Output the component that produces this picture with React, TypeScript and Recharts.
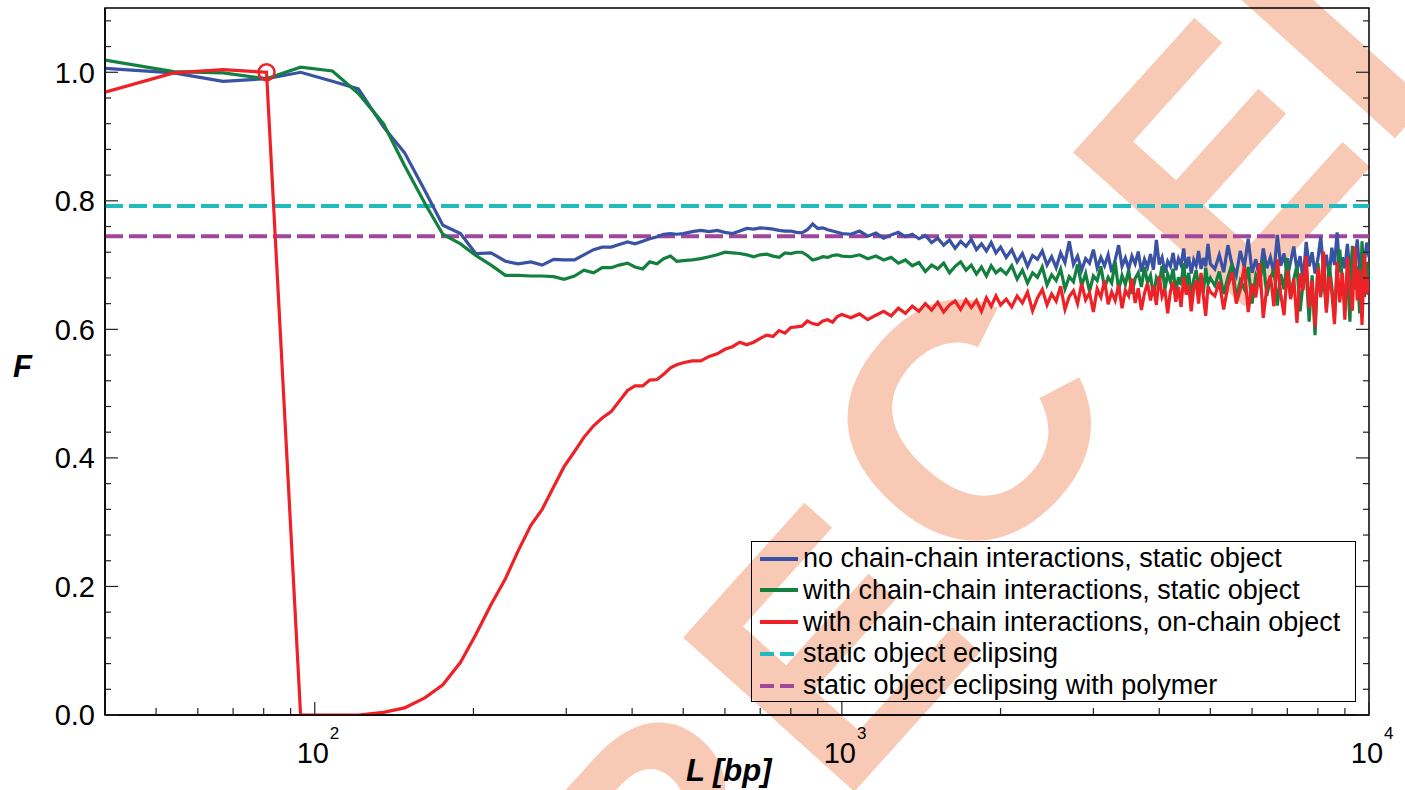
import React from "react";
import {
  LineChart,
  Line,
  XAxis,
  YAxis,
  ReferenceLine,
  ReferenceDot,
  ReferenceArea,
} from "recharts";

// chain length L [bp]
const lengths = [
  40, 54, 67, 81, 94, 108, 121, 135, 148, 162, 175, 189, 202, 216, 230, 243, 257, 270, 284, 297,
  311, 324, 338, 351, 365, 378, 392, 405, 419, 432, 446, 459, 473, 486, 500,
  520, 540, 560, 580, 600, 620, 640, 660, 680, 700, 720, 740, 760, 780, 800, 820, 840, 860, 880, 900,
  920, 940, 960, 980, 1000,
  1040, 1080, 1120, 1160, 1200, 1240, 1280, 1320, 1360, 1400, 1440, 1480, 1520, 1560, 1600, 1640,
  1680, 1720, 1760, 1800, 1840, 1880, 1920, 1960, 2000,
  2050, 2100, 2150, 2200, 2250, 2300, 2350, 2400, 2450, 2500, 2550, 2600, 2650, 2700, 2750, 2800,
  2850, 2900, 2950, 3000, 3050, 3100, 3150, 3200, 3250, 3300, 3350, 3400, 3450, 3500, 3550, 3600,
  3650, 3700, 3750, 3800, 3850, 3900, 3950, 4000, 4050, 4100, 4150, 4200, 4250, 4300, 4350, 4400,
  4450, 4500, 4550, 4600, 4650, 4700, 4750, 4800, 4850, 4900, 4950, 5000,
  5100, 5200, 5300, 5400, 5500, 5600, 5700, 5800, 5900, 6000, 6100, 6200, 6300, 6400, 6500, 6600,
  6700, 6800, 6900, 7000, 7100, 7200, 7300, 7400, 7500, 7600, 7700, 7800, 7900, 8000, 8100, 8200,
  8300, 8400, 8500, 8600, 8700, 8800, 8900, 9000, 9100, 9200, 9300, 9400, 9500, 9600, 9700, 9800,
  9900, 10000,
];

// no chain-chain interactions, static object
const noChainStatic = [
  1.006, 0.999, 0.986, 0.99, 1.0, 0.986, 0.974, 0.915, 0.875, 0.815, 0.762, 0.749, 0.718, 0.719,
  0.706, 0.702, 0.705, 0.7, 0.709, 0.708, 0.708, 0.716, 0.724, 0.728, 0.728, 0.732, 0.736, 0.733,
  0.737, 0.741, 0.744, 0.748, 0.749, 0.748, 0.749,
  0.752, 0.754, 0.752, 0.754, 0.751, 0.749, 0.753, 0.757, 0.756, 0.758, 0.757, 0.756, 0.754, 0.753,
  0.753, 0.751, 0.75, 0.755, 0.764, 0.757, 0.758, 0.755, 0.753, 0.751, 0.749,
  0.748, 0.753, 0.745, 0.75, 0.742, 0.747, 0.751, 0.744, 0.748, 0.741, 0.746, 0.735, 0.742, 0.731,
  0.739, 0.726, 0.737, 0.729, 0.74, 0.724, 0.733, 0.722, 0.735, 0.719, 0.728,
  0.712, 0.724, 0.705, 0.718, 0.698, 0.715, 0.709, 0.722, 0.7, 0.713, 0.696, 0.719, 0.704, 0.737,
  0.701, 0.714, 0.692, 0.71, 0.703, 0.724, 0.696, 0.712, 0.699, 0.716, 0.689, 0.708, 0.731, 0.698,
  0.711, 0.694, 0.714, 0.702, 0.721, 0.69, 0.709, 0.697, 0.717, 0.693, 0.739, 0.701, 0.712, 0.688,
  0.706, 0.698, 0.719, 0.692, 0.71, 0.7, 0.726, 0.695, 0.713, 0.687, 0.708, 0.699, 0.722, 0.694,
  0.711, 0.698, 0.733, 0.702,
  0.694, 0.716, 0.689, 0.731, 0.7, 0.684, 0.722, 0.697, 0.741, 0.688, 0.709, 0.679, 0.726, 0.695,
  0.712, 0.686, 0.747, 0.699, 0.718, 0.682, 0.705, 0.729, 0.691, 0.714, 0.676, 0.736, 0.698, 0.72,
  0.687, 0.71, 0.744, 0.693, 0.716, 0.681, 0.727, 0.7, 0.751, 0.689, 0.712, 0.695, 0.733, 0.684,
  0.722, 0.703, 0.74, 0.691, 0.718, 0.706, 0.735, 0.712,
];

// with chain-chain interactions, static object
const chainStatic = [
  1.019, 1.001, 0.999, 0.99, 1.008, 1.002, 0.967, 0.92, 0.855, 0.795, 0.748, 0.733, 0.715, 0.7,
  0.684, 0.684, 0.683, 0.683, 0.682, 0.678, 0.683, 0.692, 0.688, 0.696, 0.696, 0.7, 0.703, 0.697,
  0.694, 0.705, 0.702, 0.71, 0.714, 0.706, 0.707,
  0.708, 0.71, 0.713, 0.716, 0.72, 0.719, 0.718, 0.716, 0.713, 0.716, 0.717, 0.714, 0.712, 0.719,
  0.718, 0.72, 0.72, 0.715, 0.708, 0.71, 0.713, 0.712, 0.715, 0.716, 0.714,
  0.713, 0.716, 0.71, 0.714, 0.708, 0.712, 0.703, 0.708, 0.699, 0.704, 0.69, 0.7, 0.694, 0.703,
  0.688, 0.698, 0.705, 0.692, 0.7, 0.686, 0.697, 0.683, 0.699, 0.688, 0.694,
  0.686, 0.699, 0.678, 0.692, 0.672, 0.688, 0.681, 0.697, 0.669, 0.685, 0.676, 0.694, 0.663, 0.682,
  0.674, 0.701, 0.668, 0.687, 0.659, 0.683, 0.676, 0.698, 0.664, 0.681, 0.672, 0.705, 0.661, 0.684,
  0.67, 0.692, 0.655, 0.679, 0.688, 0.666, 0.697, 0.673, 0.684, 0.652, 0.68, 0.671, 0.699, 0.662,
  0.686, 0.674, 0.694, 0.658, 0.681, 0.669, 0.703, 0.663, 0.688, 0.65, 0.677, 0.692, 0.666, 0.684,
  0.657, 0.696, 0.671, 0.68,
  0.668, 0.69, 0.655, 0.681, 0.702, 0.648, 0.676, 0.663, 0.697, 0.64, 0.684, 0.671, 0.708, 0.652,
  0.679, 0.694, 0.637, 0.686, 0.662, 0.711, 0.649, 0.678, 0.699, 0.628, 0.673, 0.69, 0.612, 0.684,
  0.591, 0.703, 0.655, 0.68, 0.632, 0.702, 0.667, 0.619, 0.693, 0.724, 0.676, 0.641, 0.688, 0.612,
  0.73, 0.662, 0.698, 0.625, 0.737, 0.65, 0.705, 0.668,
];

// with chain-chain interactions, on-chain object
const chainOnChain = [
  0.969, 0.999, 1.004, 1.0, 0.0, 0.0, 0.0, 0.004, 0.011, 0.027, 0.047, 0.082, 0.125, 0.172, 0.212,
  0.255, 0.295, 0.32, 0.355, 0.386, 0.41, 0.432, 0.45, 0.462, 0.472, 0.488, 0.505, 0.512, 0.512,
  0.521, 0.522, 0.53, 0.54, 0.545, 0.548,
  0.551, 0.551, 0.558, 0.562, 0.569, 0.573, 0.58, 0.576, 0.58, 0.586, 0.591, 0.589, 0.598, 0.594,
  0.603, 0.604, 0.605, 0.613, 0.609, 0.607, 0.613, 0.615, 0.611, 0.62, 0.623,
  0.618, 0.624, 0.615, 0.622, 0.628, 0.621, 0.633, 0.625, 0.636, 0.628, 0.64, 0.63, 0.642, 0.627,
  0.638, 0.644, 0.631, 0.646, 0.634, 0.645, 0.628, 0.649, 0.636, 0.652, 0.638,
  0.647, 0.635, 0.652, 0.641, 0.658, 0.629, 0.649, 0.662, 0.638, 0.655, 0.644, 0.667, 0.631, 0.651,
  0.66, 0.64, 0.671, 0.646, 0.657, 0.627, 0.663, 0.65, 0.676, 0.639, 0.658, 0.645, 0.669, 0.633,
  0.661, 0.652, 0.679, 0.641, 0.664, 0.63, 0.656, 0.672, 0.645, 0.668, 0.638, 0.683, 0.651, 0.662,
  0.625, 0.659, 0.674, 0.643, 0.666, 0.635, 0.681, 0.654, 0.669, 0.628, 0.663, 0.676, 0.64, 0.688,
  0.652, 0.621, 0.667, 0.658,
  0.652, 0.674, 0.631, 0.668, 0.689, 0.64, 0.662, 0.698, 0.627, 0.671, 0.65, 0.703, 0.618, 0.665,
  0.684, 0.636, 0.709, 0.655, 0.622, 0.692, 0.647, 0.679, 0.61, 0.687, 0.661, 0.714, 0.633, 0.676,
  0.604, 0.696, 0.65, 0.721, 0.626, 0.682, 0.659, 0.608, 0.705, 0.642, 0.688, 0.615, 0.712, 0.667,
  0.629, 0.729, 0.645, 0.693, 0.607, 0.718, 0.654, 0.681,
];

// horizontal reference levels
const staticEclipsing = 0.792;
const eclipsingPolymer = 0.745;

// marked point on the on-chain curve
const markL = 81;
const markF = 1.0;

const xMajorTicks = [100, 1000, 10000];
const xMinorTicks = [
  50, 60, 70, 80, 90, 200, 300, 400, 500, 600, 700, 800, 900, 2000, 3000, 4000, 5000, 6000, 7000,
  8000, 9000,
];
const yMajorTicks = [0, 0.2, 0.4, 0.6, 0.8, 1.0];
const yMinorTicks = [
  0.04, 0.08, 0.12, 0.16, 0.24, 0.28, 0.32, 0.36, 0.44, 0.48, 0.52, 0.56, 0.64, 0.68, 0.72, 0.76,
  0.84, 0.88, 0.92, 0.96, 1.04, 1.08,
];

const legendItems = [
  { label: "no chain-chain interactions, static object", color: "#3a52a3", dashed: false },
  { label: "with chain-chain interactions, static object", color: "#13803f", dashed: false },
  { label: "with chain-chain interactions, on-chain object", color: "#ee2127", dashed: false },
  { label: "static object eclipsing", color: "#20bcbd", dashed: true },
  { label: "static object eclipsing with polymer", color: "#a0479c", dashed: true },
];

const stampLetters = ["R", "E", "C", "E", "I", "V"];

const W = 1405;
const H = 790;
const PLOT_LEFT = 105;
const PLOT_RIGHT = 1369;
const PLOT_W = PLOT_RIGHT - PLOT_LEFT;
const FONT = "'Liberation Sans', Arial, Helvetica, sans-serif";

const data = lengths.map((l, i) => ({
  L: l,
  noChain: noChainStatic[i],
  chain: chainStatic[i],
  onChain: chainOnChain[i],
}));

const isMajorY = (v: number) => yMajorTicks.some((t) => Math.abs(t - v) < 1e-6);

const XTick = (props: any) => {
  const { x, y, payload } = props;
  const v = payload.value;
  const major = xMajorTicks.includes(v);
  return (
    <g>
      <line x1={x} x2={x} y1={y} y2={y - (major ? 13 : 7)} stroke="#222" strokeWidth={1.2} />
      {major && (
        <g fontFamily={FONT} fill="#000">
          <text x={x - 2} y={y + 48} textAnchor="middle" fontSize={29}>
            10
          </text>
          <text x={x + 15} y={y + 24} fontSize={17}>
            {Math.round(Math.log10(v))}
          </text>
        </g>
      )}
    </g>
  );
};

const YTick = (props: any) => {
  const { x, y, payload } = props;
  const v = payload.value;
  const major = isMajorY(v);
  const len = major ? 13 : 6;
  return (
    <g>
      <line x1={x} x2={x + len} y1={y} y2={y} stroke="#222" strokeWidth={1.2} />
      <line x1={x + PLOT_W} x2={x + PLOT_W - len} y1={y} y2={y} stroke="#222" strokeWidth={1.2} />
      {major && (
        <text x={x - 10} y={y} dy="0.36em" textAnchor="end" fontSize={29} fontFamily={FONT} fill="#000">
          {v.toFixed(1)}
        </text>
      )}
    </g>
  );
};

// faint stamp behind the plot
const Backdrop = () => {
  const spots = [
    [665, 845],
    [825, 645],
    [962, 422],
    [1215, 160],
    [1322, 40],
    [1470, -120],
  ];
  return (
    <svg width={W} height={H} style={{ position: "absolute", left: 0, top: 0 }}>
      {stampLetters.map((ch, i) => (
        <g key={i} transform={`translate(${spots[i][0]},${spots[i][1]}) rotate(-48)`}>
          <text
            textAnchor="middle"
            dy="0.358em"
            fontSize={335}
            fontWeight="bold"
            fontFamily={FONT}
            fill="#f8c9b4"
          >
            {ch}
          </text>
        </g>
      ))}
      <text x={13} y={377} fontSize={31} fontWeight="bold" fontStyle="italic" fontFamily={FONT}>
        F
      </text>
      <text x={686} y={781} fontSize={31} fontWeight="bold" fontStyle="italic" fontFamily={FONT}>
        L [bp]
      </text>
    </svg>
  );
};

const LegendBox = () => (
  <div
    style={{
      position: "absolute",
      left: 751,
      top: 541,
      width: 603,
      height: 159,
      border: "1.5px solid #000",
      fontFamily: FONT,
      fontSize: 27,
      color: "#000",
    }}
  >
    {legendItems.map((it, i) => (
      <div
        key={it.label}
        style={{
          position: "absolute",
          left: 7,
          top: 1 + i * 31.8,
          height: 31,
          display: "flex",
          alignItems: "center",
          whiteSpace: "nowrap",
        }}
      >
        <svg width={40} height={10} style={{ marginRight: 4 }}>
          <line
            x1={1}
            x2={39}
            y1={5}
            y2={5}
            stroke={it.color}
            strokeWidth={4}
            strokeDasharray={it.dashed ? "14 6" : undefined}
          />
        </svg>
        <span>{it.label}</span>
      </div>
    ))}
  </div>
);

export default function App() {
  return (
    <div style={{ position: "absolute", left: 0, top: 0, width: W, height: H, background: "#fff", overflow: "hidden" }}>
      <Backdrop />
      <div style={{ position: "absolute", left: 0, top: 0 }}>
        <LineChart width={W} height={H} data={data} margin={{ top: 8, right: W - PLOT_RIGHT, left: 45, bottom: 25 }}>
          <XAxis
            dataKey="L"
            type="number"
            scale="log"
            domain={[40, 10000]}
            allowDataOverflow
            ticks={[...xMinorTicks, ...xMajorTicks].sort((a, b) => a - b)}
            interval={0}
            tick={<XTick />}
            tickLine={false}
            tickSize={0}
            tickMargin={0}
            height={50}
            axisLine={{ stroke: "#000", strokeWidth: 1.5 }}
          />
          <YAxis
            type="number"
            domain={[0, 1.1]}
            allowDataOverflow
            ticks={[...yMajorTicks, ...yMinorTicks].sort((a, b) => a - b)}
            interval={0}
            tick={<YTick />}
            tickLine={false}
            tickSize={0}
            tickMargin={0}
            width={60}
            axisLine={{ stroke: "#000", strokeWidth: 1.5 }}
          />
          <ReferenceArea x1={40} x2={10000} y1={0} y2={1.1} fill="none" stroke="#000" strokeWidth={1.5} />
          <ReferenceLine y={staticEclipsing} stroke="#20bcbd" strokeWidth={4} strokeDasharray="18 6" />
          <ReferenceLine y={eclipsingPolymer} stroke="#a0479c" strokeWidth={4} strokeDasharray="18 6" />
          <Line
            dataKey="noChain"
            type="linear"
            stroke="#3a52a3"
            strokeWidth={3.2}
            dot={false}
            isAnimationActive={false}
          />
          <Line
            dataKey="chain"
            type="linear"
            stroke="#13803f"
            strokeWidth={3.2}
            dot={false}
            isAnimationActive={false}
          />
          <Line
            dataKey="onChain"
            type="linear"
            stroke="#ee2127"
            strokeWidth={3.2}
            dot={false}
            isAnimationActive={false}
          />
          <ReferenceDot x={markL} y={markF} r={8} fill="none" stroke="#ee2127" strokeWidth={2.5} />
        </LineChart>
      </div>
      <LegendBox />
    </div>
  );
}
